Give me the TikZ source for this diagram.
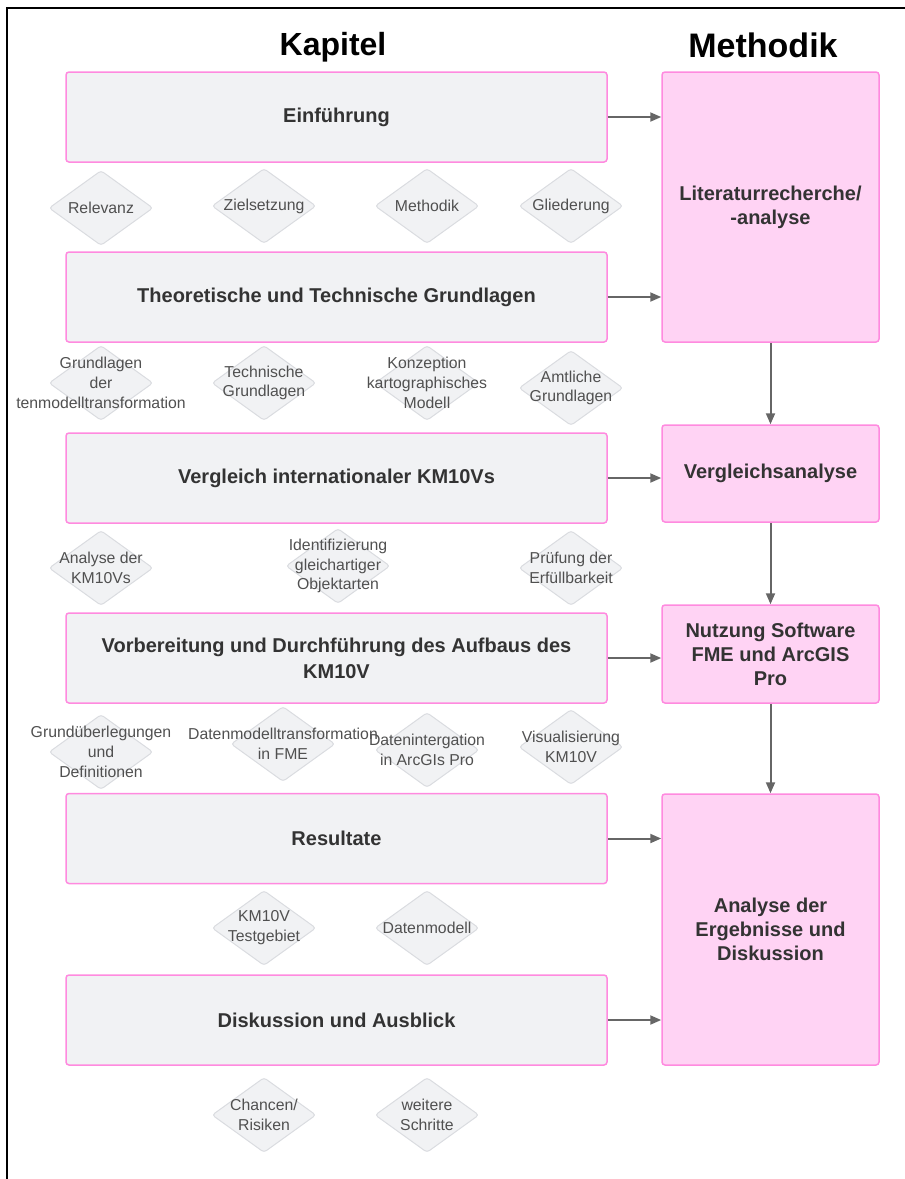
\documentclass[tikz,border=0pt]{standalone}
\usepackage{fontspec}
\setmainfont{Liberation Sans}
\usetikzlibrary{shapes.geometric, arrows.meta}
\definecolor{kapgrau}{HTML}{F1F2F4}
\definecolor{rosarand}{HTML}{FF8ADF}
\definecolor{methrosa}{HTML}{FFD3F4}
\definecolor{schrift}{HTML}{333333}
\definecolor{rautenschrift}{HTML}{505050}
\definecolor{pfeilgrau}{HTML}{666666}
\definecolor{rautenrand}{HTML}{DADCE0}
\tikzstyle{kap}=[shape=rectangle, rounded corners=3pt, draw=rosarand, line width=1.5pt, fill=kapgrau, minimum width=541pt, minimum height=90pt, text=schrift, font=\bfseries\fontsize{20}{26}\selectfont, align=center]
\tikzstyle{meth}=[kap, fill=methrosa, minimum width=217pt, font=\bfseries\fontsize{20}{24}\selectfont]
\tikzstyle{raute}=[shape=diamond, draw=rautenrand, line width=1pt, fill=kapgrau, minimum width=104pt, minimum height=75pt, inner sep=0, rounded corners=3pt]
\tikzstyle{rtext}=[text=rautenschrift, font=\fontsize{15.8}{19.8}\selectfont, align=center, inner sep=0]
\tikzstyle{kopf}=[font=\bfseries\fontsize{32}{36}\selectfont, text=black]
\tikzstyle{pf}=[draw=pfeilgrau, line width=2pt, -{Triangle[length=11pt,width=9pt]}]

\begin{document}
\begin{tikzpicture}[x=1pt, y=-1pt]
\useasboundingbox (0,0) rectangle (905,1179);
\draw[line width=2pt] (7,1179) -- (7,8) -- (905,8);
%\draw[help lines,step=50pt] (0,0) grid (905,1179);
\node at (333,47)[kopf](kapitel){Kapitel};
\node at (763,45)[kopf, font=\bfseries\fontsize{34}{38}\selectfont](methodik){Methodik};
% Kapitel
\node at (336.5,117)[kap](k1){Einführung};
\node at (336.5,297)[kap](k2){Theoretische und Technische Grundlagen};
\node at (336.5,478)[kap](k3){Vergleich internationaler KM10Vs};
\node at (336.5,658)[kap](k4){Vorbereitung und Durchführung des Aufbaus des\\KM10V};
\node at (336.5,838.5)[kap](k5){Resultate};
\node at (336.5,1020)[kap](k6){Diskussion und Ausblick};
% Methodik
\node at (770.5,207)[meth, minimum height=270pt](m1){Literaturrecherche/\\-analyse};
\node at (770.5,473.5)[meth, minimum height=97pt](m2){Vergleichsanalyse};
\node at (770.5,654)[meth, minimum height=98pt](m3){Nutzung Software\\FME und ArcGIS\\Pro};
\node at (770.5,929.5)[meth, minimum height=271pt](m4){Analyse der\\Ergebnisse und\\Diskussion};
% Unterpunkte
\node at (101,208)[raute, label={[rtext]center:Relevanz}](r11){};
\node at (264,206)[raute, label={[rtext]center:Zielsetzung}](r12){};
\node at (427,206)[raute, label={[rtext]center:Methodik}](r13){};
\node at (571,206)[raute, label={[rtext]center:Gliederung}](r14){};
\node at (101,383)[raute, label={[rtext]center:{Grundlagen\\der\\tenmodelltransformation}}](r21){};
\node at (264,383)[raute, label={[rtext]center:{Technische\\Grundlagen}}](r22){};
\node at (427,383)[raute, label={[rtext]center:{Konzeption\\kartographisches\\Modell}}](r23){};
\node at (571,388)[raute, label={[rtext]center:{Amtliche\\Grundlagen}}](r24){};
\node at (101,568)[raute, label={[rtext]center:{Analyse der\\KM10Vs}}](r31){};
\node at (338,566)[raute, label={[rtext]center:{Identifizierung\\gleichartiger\\Objektarten}}](r32){};
\node at (571,568)[raute, label={[rtext]center:{Prüfung der\\Erfüllbarkeit}}](r33){};
\node at (101,752)[raute, label={[rtext]center:{Grundüberlegungen\\und\\Definitionen}}](r41){};
\node at (283,744)[raute, label={[rtext]center:{Datenmodelltransformation\\in FME}}](r42){};
\node at (427,750)[raute, label={[rtext]center:{Datenintergation\\in ArcGIs Pro}}](r43){};
\node at (571,747)[raute, label={[rtext]center:{Visualisierung\\KM10V}}](r44){};
\node at (264,928)[raute, label={[rtext]center:{KM10V\\Testgebiet}}](r51){};
\node at (427,928)[raute, label={[rtext]center:Datenmodell}](r52){};
\node at (264,1115)[raute, label={[rtext]center:{Chancen/\\Risiken}}](r61){};
\node at (427,1115)[raute, label={[rtext]center:{weitere\\Schritte}}](r62){};
% Pfeile
\draw[pf] (k1.east) -- (k1.east -| m1.west);
\draw[pf] (k2.east) -- (k2.east -| m1.west);
\draw[pf] (k3.east) -- (k3.east -| m2.west);
\draw[pf] (k4.east) -- (k4.east -| m3.west);
\draw[pf] (k5.east) -- (k5.east -| m4.west);
\draw[pf] (k6.east) -- (k6.east -| m4.west);
\draw[pf] (m1.south) -- (m2.north);
\draw[pf] (m2.south) -- (m3.north);
\draw[pf] (m3.south) -- (m4.north);
\end{tikzpicture}
\end{document}
